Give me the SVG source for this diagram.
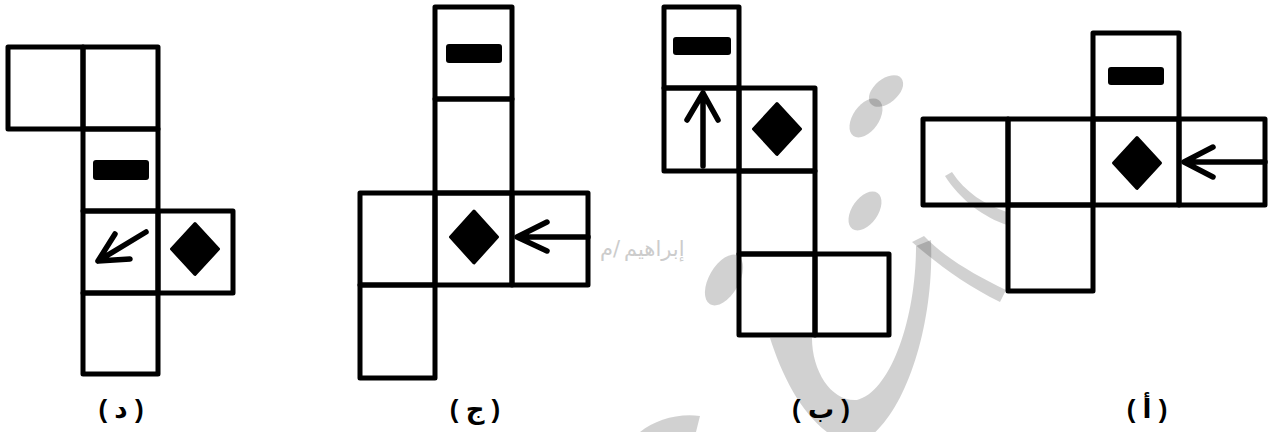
<svg xmlns="http://www.w3.org/2000/svg" width="1271" height="432" viewBox="0 0 1271 432">
<style>
.cell{fill:none;stroke:#000;stroke-width:5;stroke-linejoin:round;stroke-linecap:round}
.dash{fill:#000}
.dia{fill:#000;stroke:#000;stroke-width:3;stroke-linejoin:round}
.arr{fill:none;stroke:#000;stroke-width:5.5;stroke-linecap:round;stroke-linejoin:round}
.lbl{font-family:"Liberation Sans","DejaVu Sans",sans-serif;font-weight:bold;font-size:26px;fill:#000;text-anchor:middle}
.wm{fill:#000;fill-opacity:0.18}
.wmt{font-family:"DejaVu Sans","Noto Sans",sans-serif;font-size:21px;fill:#cccccc}
</style>
<rect width="1271" height="432" fill="#fff"/>
<g id="watermark">
<ellipse class="wm" cx="886" cy="91" rx="20" ry="12" transform="rotate(-40 886 91)"/>
<ellipse class="wm" cx="866" cy="118" rx="22" ry="13" transform="rotate(-55 866 118)"/>
<ellipse class="wm" cx="865" cy="211" rx="22" ry="13" transform="rotate(-55 865 211)"/>
<ellipse class="wm" cx="724" cy="280" rx="28" ry="15" transform="rotate(-60 724 280)"/>
<path class="wm" d="M770,338 C785,385 810,430 850,445 C895,440 935,340 931,240 L916,246 C916,320 890,392 857,400 C832,402 812,372 812,338 Z"/>
<path class="wm" d="M912,242 C935,262 965,285 1000,302 L1006,290 C975,275 945,258 924,236 Z"/>
<path class="wm" d="M945,176 C960,200 985,218 1007,225 L1007,212 C985,205 965,192 952,172 Z"/>
<path class="wm" d="M640,432 C655,420 678,413 700,416 L696,432 Z"/>
</g>
<g id="signature">
<text class="wmt" x="600" y="256">م</text>
<text class="wmt" x="613" y="256">/</text>
<text class="wmt" x="624" y="256">إبراهيم</text>
</g>
<g id="net-d">
<rect class="cell" x="8" y="47" width="75" height="82"/>
<rect class="cell" x="83" y="47" width="75" height="82"/>
<rect class="cell" x="83" y="129" width="75" height="82"/>
<rect class="cell" x="83" y="211" width="75" height="82"/>
<rect class="cell" x="158" y="211" width="75" height="82"/>
<rect class="cell" x="83" y="293" width="75" height="81"/>
<rect class="dash" x="93" y="160" width="56" height="20" rx="3"/>
<polygon class="dia" points="195,223.5 218.5,249 195,274.5 171.5,249"/>
<path class="arr" d="M146,232 L98,261 M115,234 L98,261 L130,259"/>
</g>
<g id="net-j">
<rect class="cell" x="435" y="7" width="77" height="92"/>
<rect class="cell" x="435" y="99" width="77" height="94"/>
<rect class="cell" x="360" y="193" width="75" height="92"/>
<rect class="cell" x="435" y="193" width="77" height="92"/>
<rect class="cell" x="512" y="193" width="76" height="92"/>
<rect class="cell" x="360" y="285" width="75" height="93"/>
<rect class="dash" x="446" y="44" width="56" height="19" rx="3"/>
<polygon class="dia" points="474,211 497.5,237 474,263 450.5,237"/>
<path class="arr" d="M588,237 L517,237 M547,222 L517,237 L547,251"/>
</g>
<g id="net-b">
<rect class="cell" x="664" y="7" width="75" height="81"/>
<rect class="cell" x="664" y="88" width="75" height="83"/>
<rect class="cell" x="739" y="88" width="76" height="83"/>
<rect class="cell" x="739" y="171" width="76" height="83"/>
<rect class="cell" x="739" y="254" width="76" height="81"/>
<rect class="cell" x="815" y="254" width="74" height="81"/>
<rect class="dash" x="673" y="37" width="58" height="18" rx="3"/>
<polygon class="dia" points="777,103.5 800.5,129 777,154.5 753.5,129"/>
<path class="arr" d="M703,166 L703,93 M687,120 L703,93 L718,120"/>
</g>
<g id="net-a">
<rect class="cell" x="1093" y="33" width="86" height="86"/>
<rect class="cell" x="923" y="119" width="85" height="86"/>
<rect class="cell" x="1008" y="119" width="85" height="86"/>
<rect class="cell" x="1093" y="119" width="86" height="86"/>
<rect class="cell" x="1179" y="119" width="86" height="86"/>
<rect class="cell" x="1008" y="205" width="85" height="86"/>
<rect class="dash" x="1108" y="67" width="56" height="18" rx="3"/>
<polygon class="dia" points="1137,137.5 1160.5,163 1137,188.5 1113.5,163"/>
<path class="arr" d="M1265,162 L1184,162 M1213,147 L1184,162 L1213,177"/>
</g>
<g id="labels">
<text class="lbl" x="121" y="418">( د )</text>
<text class="lbl" x="475" y="418">( ج )</text>
<text class="lbl" x="821" y="418">( ب )</text>
<text class="lbl" x="1147" y="418">( أ )</text>
</g>
</svg>
